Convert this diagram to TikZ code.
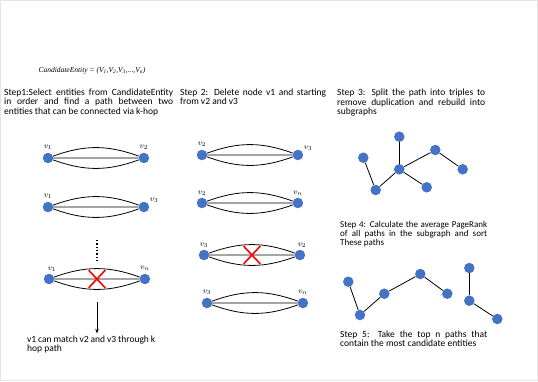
\documentclass[tikz,border=0pt]{standalone}
\usepackage{fontspec}
\setmainfont{Carlito}
\newfontfamily\eqfont{Liberation Serif}
\usetikzlibrary{arrows.meta,positioning,shapes.misc,calc}
\definecolor{entblue}{HTML}{4472C4}

\begin{document}
\begin{tikzpicture}[
    x=1pt,y=-1pt,
    node distance=85pt,
    ent/.style={circle,fill=entblue,minimum size=10.5pt,inner sep=0pt},
    vlab/.style={inner sep=0pt,font=\fontsize{8}{8}\selectfont},
    desc/.style={anchor=north west,inner sep=0pt,align=justify,
                 font=\fontsize{9.5}{9.3}\selectfont},
    link/.style={line width=0.8pt},
    arr/.style={-{Stealth[length=5pt,width=3.5pt]},line width=0.8pt},
    nope/.style={cross out,draw=red,line width=1.6pt,minimum width=15pt,
                 minimum height=16pt,inner sep=0pt},
  ]
  \useasboundingbox (0,0) rectangle (538,381);
  \draw[black!10] (0.5,0.5) rectangle (537.5,380.5);

  % candidate set
  \node[font=\eqfont\itshape\fontsize{7.5}{8}\selectfont] (cand) at (92,71)
       {CandidateEntity = (V\textsubscript{1},V\textsubscript{2},V\textsubscript{3},...,V\textsubscript{n})};

  % step texts
  \node[desc,text width=169pt] (stepone) at (4,88.6)
       {Step1:Select entities from CandidateEntity\linebreak in order and find a path between two\linebreak entities that can be connected via k-hop};
  \node[desc,text width=146pt] (steptwo) at (180,88.3)
       {Step 2: Delete node v1 and starting\linebreak from v2 and v3};
  \node[desc,text width=148pt] (stepthree) at (337,89)
       {Step 3: Split the path into triples to\linebreak remove duplication and rebuild into\linebreak subgraphs};
  \node[desc,text width=147pt,font=\fontsize{9}{9.3}\selectfont] (stepfour) at (340,220.8)
       {Step 4: Calculate the average PageRank\linebreak of all paths in the subgraph and sort\linebreak These paths};
  \node[desc,text width=147pt] (stepfive) at (340,330.6)
       {Step 5: Take the top n paths that\linebreak contain the most candidate entities};
  \node[desc,text width=128pt] (hint) at (27,335.6)
       {v1 can match v2 and v3 through k\linebreak hop path};

  % k-hop paths, first column
  \node[ent] (a1) at (48,158) {};
  \node[ent,right=of a1] (b1) {};
  \node[ent] (a2) at (48,207) {};
  \node[ent,right=of a2] (b2) {};
  \node[ent] (a3) at (49,279) {};
  \node[ent,right=of a3] (b3) {};

  \node[vlab,above=3pt of a1] (la1) {$v_1$};
  \node[vlab,above=3pt of b1] (lb1) {$v_2$};
  \node[vlab,above=3pt of a2] (la2) {$v_1$};
  \node[vlab,above right=0pt and 2pt of b2] (lb2) {$v_3$};
  \node[vlab,above=2pt of a3,xshift=3pt] (la3) {$v_1$};
  \node[vlab,above=3pt of b3] (lb3) {$v_n$};

  \draw[link] (a1)--(b1) (a1) to[bend left=20] (b1) (a1) to[bend right=20] (b1);
  \draw[link] (a2)--(b2) (a2) to[bend left=20] (b2) (a2) to[bend right=20] (b2);
  \draw[link] (a3)--(b3) (a3) to[bend left=20] (b3) (a3) to[bend right=20] (b3);

  \coordinate (dtop) at (97,240);
  \coordinate (dbot) at (97,261);
  \draw[dotted,line width=1.3pt] (dtop)--(dbot);
  \node[nope] (xone) at ($(a3)!0.5!(b3)$) {};

  \coordinate (arrtop) at (97,302);
  \draw[arr,shorten >=2pt] (arrtop)--(arrtop |- hint.north);

  % second column
  \node[ent] (a4) at (202,155) {};
  \node[ent,right=of a4] (b4) {};
  \node[ent] (a5) at (202,203) {};
  \node[ent,right=of a5] (b5) {};
  \node[ent] (a6) at (204,255) {};
  \node[ent,right=of a6] (b6) {};
  \node[ent] (a7) at (207,303) {};
  \node[ent,right=of a7] (b7) {};

  \node[vlab,above=3pt of a4] (la4) {$v_2$};
  \node[vlab,above right=0pt and 2pt of b4] (lb4) {$v_3$};
  \node[vlab,above=2pt of a5] (la5) {$v_2$};
  \node[vlab,above=2pt of b5] (lb5) {$v_n$};
  \node[vlab,above=2pt of a6] (la6) {$v_3$};
  \node[vlab,above=2pt of b6,xshift=2pt] (lb6) {$v_2$};
  \node[vlab,above=3pt of a7] (la7) {$v_3$};
  \node[vlab,above=3pt of b7] (lb7) {$v_n$};

  \draw[link] (a4)--(b4) (a4) to[bend left=20] (b4) (a4) to[bend right=20] (b4);
  \draw[link] (a5)--(b5) (a5) to[bend left=20] (b5) (a5) to[bend right=20] (b5);
  \draw[link] (a6)--(b6) (a6) to[bend left=20] (b6) (a6) to[bend right=20] (b6);
  \draw[link] (a7)--(b7) (a7) to[bend left=20] (b7) (a7) to[bend right=20] (b7);
  \node[nope] (xtwo) at ($(a6)!0.5!(b6)$) {};

  % subgraph from triples
  \node[ent] (g1) at (399.3,136.7) {};
  \node[ent] (g2) at (363.3,157.7) {};
  \node[ent] (g3) at (399.3,169.3) {};
  \node[ent] (g4) at (435.3,150) {};
  \node[ent] (g5) at (462.7,169.3) {};
  \node[ent] (g6) at (375.7,190) {};
  \node[ent] (g7) at (426.7,187.3) {};

  \draw[link] (g1)--(g3);
  \draw[link] (g2)--(g6);
  \draw[link] (g6)--(g3);
  \draw[link] (g3)--(g4);
  \draw[link] (g4)--(g5);
  \draw[link] (g3)--(g7);

  % sorted paths
  \node[ent] (p1) at (348.3,281.7) {};
  \node[ent] (p2) at (360,315) {};
  \node[ent] (p3) at (384.3,293.7) {};
  \node[ent] (p4) at (420.3,274) {};
  \node[ent] (p5) at (447.3,293.7) {};
  \node[ent] (q1) at (469.3,268) {};
  \node[ent] (q2) at (469.3,300.7) {};
  \node[ent] (q3) at (497.3,319) {};

  \draw[link] (p1)--(p2);
  \draw[link] (p2)--(p3);
  \draw[link] (p3)--(p4);
  \draw[link] (p4)--(p5);
  \draw[link] (q1)--(q2);
  \draw[link] (q2)--(q3);
\end{tikzpicture}
\end{document}
